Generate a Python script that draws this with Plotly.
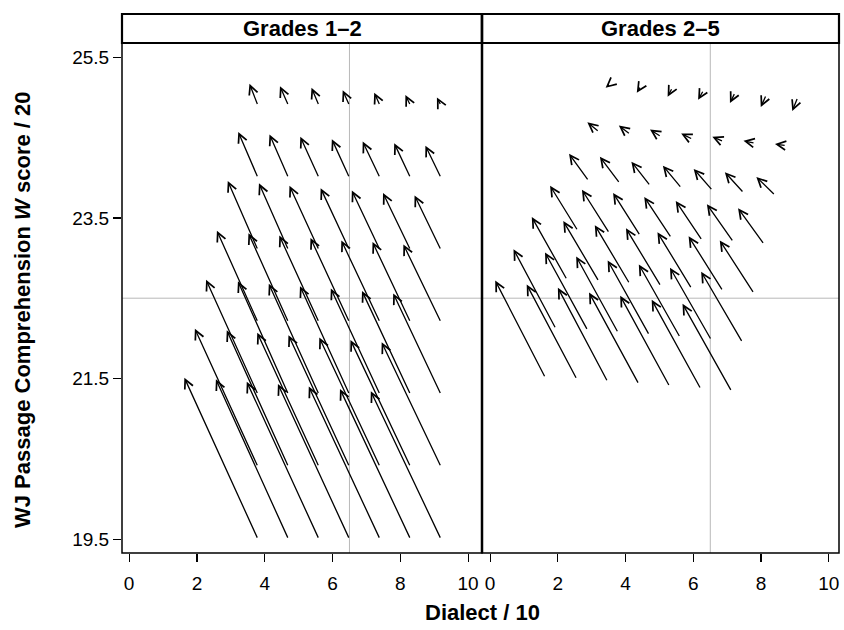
import plotly.graph_objects as go

# Grid of starting points (Grades 1-2 panel tails)
grid_dialect = [3.8, 4.7, 5.6, 6.5, 7.4, 8.3, 9.2]
grid_score = [19.5, 20.4, 21.3, 22.2, 23.1, 24.0, 24.9]

# Predicted position after grades 1-2 (arrow heads, left panel; tails, right panel)
g2_dialect = [
    [1.63, 2.56, 3.47, 4.39, 5.30, 6.22, 7.13],
    [1.94, 2.88, 3.78, 4.70, 5.61, 6.53, 7.45],
    [2.27, 3.21, 4.12, 5.04, 5.95, 6.87, 7.79],
    [2.59, 3.52, 4.43, 5.35, 6.26, 7.18, 8.09],
    [2.91, 3.83, 4.73, 5.65, 6.57, 7.49, 8.42],
    [3.22, 4.14, 5.05, 5.98, 6.89, 7.82, 8.74],
    [3.55, 4.45, 5.38, 6.30, 7.23, 8.15, 9.08],
]
g2_score = [
    [21.51, 21.49, 21.46, 21.43, 21.40, 21.37, 21.34],
    [22.12, 22.10, 22.07, 22.04, 22.01, 21.98, 21.95],
    [22.73, 22.71, 22.68, 22.65, 22.62, 22.59, 22.56],
    [23.34, 23.31, 23.28, 23.25, 23.22, 23.20, 23.17],
    [23.96, 23.93, 23.90, 23.87, 23.84, 23.81, 23.78],
    [24.57, 24.54, 24.51, 24.48, 24.45, 24.43, 24.40],
    [25.17, 25.14, 25.12, 25.09, 25.06, 25.03, 25.00],
]
# Predicted position after grades 2-5 (arrow heads, right panel)
g5_dialect = [
    [0.15, 1.08, 2.00, 2.92, 3.84, 4.77, 5.68],
    [0.69, 1.62, 2.54, 3.47, 4.39, 5.31, 6.23],
    [1.23, 2.16, 3.09, 4.01, 4.94, 5.86, 6.78],
    [1.77, 2.71, 3.63, 4.55, 5.48, 6.40, 7.32],
    [2.33, 3.24, 4.17, 5.10, 6.01, 6.93, 7.86],
    [2.87, 3.80, 4.72, 5.64, 6.56, 7.48, 8.41],
    [3.41, 4.33, 5.24, 6.14, 7.08, 7.99, 8.92],
]
g5_score = [
    [22.72, 22.67, 22.63, 22.57, 22.53, 22.48, 22.43],
    [23.11, 23.07, 23.02, 22.97, 22.92, 22.88, 22.83],
    [23.51, 23.46, 23.41, 23.37, 23.32, 23.27, 23.22],
    [23.90, 23.85, 23.81, 23.76, 23.71, 23.67, 23.62],
    [24.30, 24.26, 24.20, 24.15, 24.11, 24.07, 24.01],
    [24.69, 24.65, 24.60, 24.55, 24.51, 24.46, 24.42],
    [25.12, 25.06, 25.01, 24.97, 24.93, 24.88, 24.83],
]

panel_titles = ["Grades 1\u20132", "Grades 2\u20135"]
x_ticks = [0, 2, 4, 6, 8, 10]
y_ticks = [19.5, 21.5, 23.5, 25.5]
ref_dialect = 6.5
ref_score = 22.5

FONT = "Liberation Sans, Arial, Helvetica, sans-serif"
W, H = 844, 630
ML, MT = 122, 43
MR = W - 839
MB = H - 553
plot_w = W - ML - MR
plot_h = H - MT - MB
split = (482 - ML) / plot_w

fig = go.Figure()
fig.add_trace(go.Scatter(x=[None], y=[None], xaxis="x", yaxis="y", showlegend=False,
                         hoverinfo="skip"))
fig.add_trace(go.Scatter(x=[None], y=[None], xaxis="x2", yaxis="y2", showlegend=False,
                         hoverinfo="skip"))

annotations = []
arrow_style = dict(showarrow=True, text="", arrowhead=5, arrowsize=1.35, arrowwidth=1.3,
                   arrowcolor="black", standoff=0, startstandoff=0)

for j, ys in enumerate(grid_score):
    for i, xs in enumerate(grid_dialect):
        annotations.append(dict(x=g2_dialect[j][i], y=g2_score[j][i], ax=xs, ay=ys,
                                xref="x", yref="y", axref="x", ayref="y", **arrow_style))
        annotations.append(dict(x=g5_dialect[j][i], y=g5_score[j][i],
                                ax=g2_dialect[j][i], ay=g2_score[j][i],
                                xref="x2", yref="y2", axref="x2", ayref="y2", **arrow_style))

shapes = []
for xr, yr in (("x", "y"), ("x2", "y2")):
    shapes.append(dict(type="line", xref=xr, yref=yr + " domain", x0=ref_dialect, x1=ref_dialect,
                       y0=0, y1=1, line=dict(color="#b8b8b8", width=1), layer="below"))
    shapes.append(dict(type="line", xref=xr + " domain", yref=yr, x0=0, x1=1, y0=ref_score,
                       y1=ref_score, line=dict(color="#b8b8b8", width=1), layer="below"))
    shapes.append(dict(type="rect", xref=xr + " domain", yref=yr + " domain", x0=0, x1=1,
                       y0=0, y1=1, line=dict(color="black", width=1.5)))

strip_top = 1 + (MT - 14) / plot_h
for k, xr in enumerate(("x", "x2")):
    shapes.append(dict(type="rect", xref=xr + " domain", yref="paper", x0=0, x1=1,
                       y0=1, y1=strip_top, line=dict(color="black", width=2.2),
                       fillcolor="white"))
    annotations.append(dict(text="<b>" + panel_titles[k] + "</b>", xref=xr + " domain",
                            yref="paper", x=0.5, y=(1 + strip_top) / 2, showarrow=False,
                            font=dict(size=22, color="black", family=FONT),
                            xanchor="center", yanchor="middle"))
shapes.append(dict(type="line", xref="paper", yref="paper", x0=split, x1=split, y0=0,
                   y1=strip_top, line=dict(color="black", width=2.5)))

annotations.append(dict(text="<b>WJ Passage Comprehension <i>W</i> score / 20</b>",
                        xref="paper", yref="paper", x=(22 - ML) / plot_w,
                        y=(553 - 310) / plot_h, textangle=-90, showarrow=False,
                        font=dict(size=22, color="black", family=FONT),
                        xanchor="center", yanchor="middle"))
annotations.append(dict(text="<b>Dialect / 10</b>", xref="paper", yref="paper",
                        x=(482 - ML) / plot_w, y=-(612 - 553) / plot_h, showarrow=False,
                        font=dict(size=22, color="black", family=FONT),
                        xanchor="center", yanchor="middle"))

axis_common = dict(showgrid=False, zeroline=False, showline=False, ticks="outside",
                   ticklen=8, tickwidth=1.2, tickcolor="black",
                   tickfont=dict(size=19, color="black", family=FONT))

fig.update_layout(
    width=W, height=H,
    margin=dict(l=ML, r=MR, t=MT, b=MB),
    paper_bgcolor="white", plot_bgcolor="white",
    showlegend=False,
    hovermode=False,
    font=dict(family=FONT, color="black"),
    xaxis=dict(domain=[0, split], range=[-0.21, 10.41], tickvals=x_ticks,
               anchor="y", ticklabelstandoff=5, **axis_common),
    xaxis2=dict(domain=[split, 1], range=[-0.24, 10.30], tickvals=x_ticks,
                anchor="y2", ticklabelstandoff=5, **axis_common),
    yaxis=dict(domain=[0, 1], range=[19.327, 25.678], tickvals=y_ticks,
               ticktext=[str(v) for v in y_ticks], anchor="x", **axis_common),
    yaxis2=dict(domain=[0, 1], matches="y", anchor="x2", showticklabels=False,
                showgrid=False, zeroline=False, showline=False, ticks=""),
    shapes=shapes,
    annotations=annotations,
)

fig.write_html("out.html", config={"displayModeBar": False, "staticPlot": True},
               post_script="document.body.style.margin='0';document.body.style.overflow='hidden';")
